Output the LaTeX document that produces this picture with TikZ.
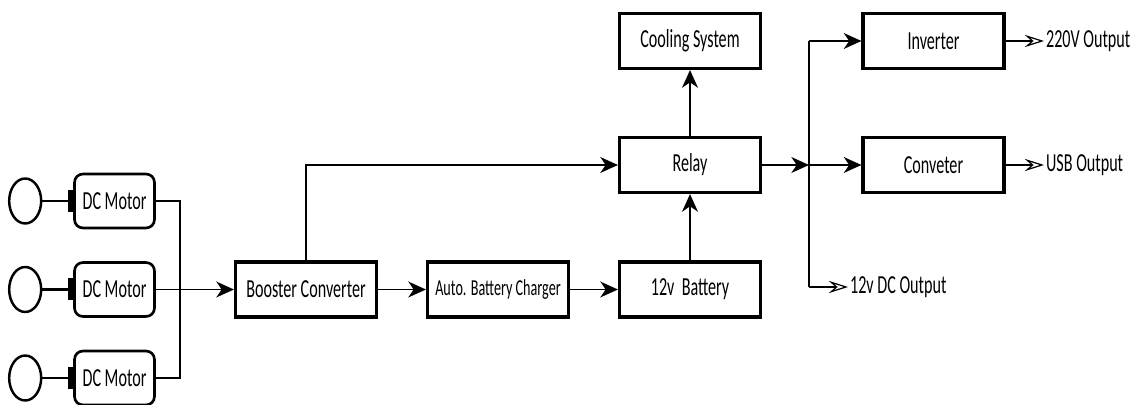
\documentclass[tikz,border=0pt]{standalone}
\usepackage{fontspec}
\setmainfont{Carlito}[FakeStretch=0.62]
\usetikzlibrary{arrows.meta,calc,positioning}

\begin{document}
\begin{tikzpicture}[x=0.02cm, y=-0.02cm,
  box/.style={draw, line width=1.8pt, minimum width=2.82cm, minimum height=1.1cm,
              inner sep=0pt, font=\fontsize{14.8}{17}\selectfont},
  motor/.style={draw, line width=1.5pt, rounded corners=0.17cm, minimum width=1.6cm,
                minimum height=1.08cm, inner sep=0pt, font=\fontsize{14.8}{17}\selectfont},
  outlabel/.style={font=\fontsize{14.8}{17}\selectfont, anchor=west, inner sep=1pt},
  wire/.style={line width=1pt},
  flow/.style={line width=1.1pt, -{Stealth[length=10pt,width=9pt,inset=3pt]}},
  outflow/.style={line width=0.7pt, -{Stealth[open,length=11pt,width=7pt,inset=4pt]}}]

  \useasboundingbox (0,0) rectangle (1144,405);

  % Define dimensions
  \def\yMain{289.5}
  \def\yRelay{165}
  \def\yTop{41}

  % Draw motors
  \foreach \i/\y in {1/201, 2/289.5, 3/378} {
    \node[motor] (M\i) at (114.5,\y) {DC Motor};
    \fill ($(M\i.west)+(-5,-11)$) rectangle ($(M\i.west)+(0,11)$);
    \draw[line width=1.6pt] ($(M\i.west)+(-5,0)$) -- ($(M\i.west)+(-32,0)$);
    \draw[line width=1.4pt] ($(M\i.west)+(-48,0)$) ellipse (0.32cm and 0.45cm);
  }

  % Define blocks
  \node[box] (B) at (306,\yMain) {Booster Converter};
  \node[box, font=\fontsize{13}{15}\selectfont] (C) at (498,\yMain) {Auto. Battery Charger};
  \node[box] (Bat) at (690,\yMain) {12v~~Battery};
  \node[box] (R) at (690,\yRelay) {Relay};
  \node[box] (Cool) at (690,\yTop) {Cooling System};
  \node[box] (Inv) at (933.5,\yTop) {Inverter};
  \node[box] (Conv) at (933.5,\yRelay) {Conveter};

  % Define points
  \coordinate (J) at (180,\yMain);
  \coordinate (S) at (809,\yRelay);
  \coordinate (D) at (809,287);

  % Label outputs
  \node[outlabel] (o220) at (1044,\yTop) {220V Output};
  \node[outlabel] (ousb) at (1044,\yRelay) {USB Output};
  \node[outlabel] (odc) at (848,287) {12v DC Output};

  % Draw connections
  \draw[wire] (M1.east) -| (J);
  \draw[wire] (M3.east) -| (J);
  \draw[flow] (M2.east) -- (B.west);
  \draw[flow] (B.east) -- (C.west);
  \draw[flow] (C.east) -- (Bat.west);
  \draw[flow] (Bat.north) -- (R.south);
  \draw[flow] (R.north) -- (Cool.south);
  \draw[flow] (B.north) |- (R.west);
  \draw[flow] (R.east) -- (S);
  \draw[wire] (S |- Inv.west) -- (D);
  \draw[flow] (S |- Inv.west) -- (Inv.west);
  \draw[flow] (S) -- (Conv.west);

  \draw[outflow] (Inv.east) -- (o220.west);
  \draw[outflow] (Conv.east) -- (ousb.west);
  \draw[outflow] (D) -- (odc.west);

\end{tikzpicture}
\end{document}
